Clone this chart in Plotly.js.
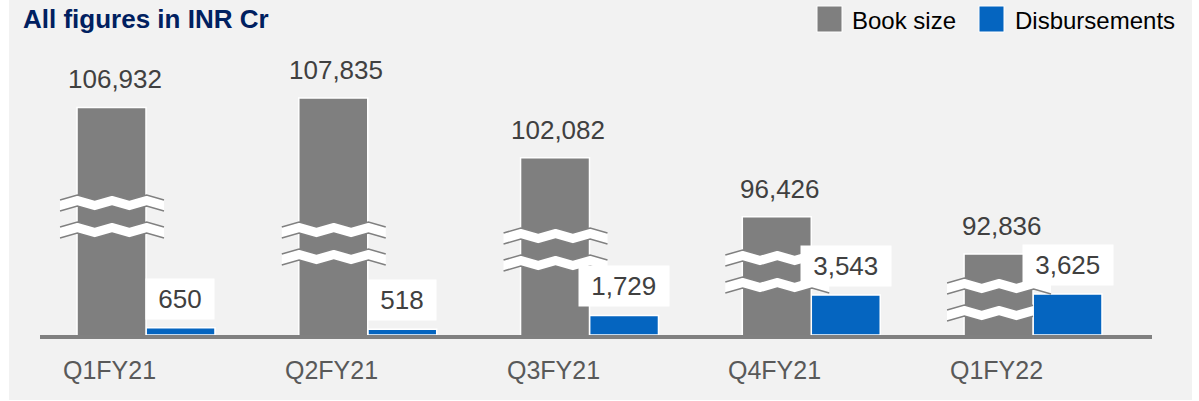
<!DOCTYPE html>
<html><head><meta charset="utf-8">
<script src="https://cdn.plot.ly/plotly-3.0.1.min.js"></script>
<style>html,body{margin:0;padding:0;background:#fff;}#chart{width:1199px;height:401px;}</style>
</head><body><div id="chart"></div>
<script>
// ---------- data ----------
const quarters = ['Q1FY21', 'Q2FY21', 'Q3FY21', 'Q4FY21', 'Q1FY22'];
const bookSize = [106932, 107835, 102082, 96426, 92836];
const disbursements = [650, 518, 1729, 3543, 3625];
const seriesNames = ['Book size', 'Disbursements'];
const chartTitle = 'All figures in INR Cr';

// ---------- style / geometry ----------
const W = 1199, H = 401;
const M = {l: 40, r: 47, t: 60, b: 66};
const PW = W - M.l - M.r, PH = H - M.t - M.b;
const XR = [-0.478, 4.5365];
const BAR_W = 0.311;
const Y1R = [0, 24314];          // disbursements axis
const Y2R = [85048, 111488];     // book size axis (broken axis, not starting at 0)
const GRAY = '#7f7f7f', BLUE = '#0565c0', AXIS = '#808080';
const FONT = '"Liberation Sans", Arial, Helvetica, sans-serif';
const LABEL_C = '#404040', TICK_C = '#595959';
const breakTopPx = [195, 222, 228, 250, 278]; // decorative axis-break marks (px)
const BREAK_GAP = 27, BAND_T = 11, AMP = 5, EXT_L = 17, EXT_R = 18;

const UNIT = PW / (XR[1] - XR[0]);
function xPx(v) { return M.l + (v - XR[0]) * UNIT; }
function yPx(v, r) { return M.t + PH - (v - r[0]) / (r[1] - r[0]) * PH; }
function fx(x) { return (x - M.l) / PW; }
function fy(y) { return (M.t + PH - y) / PH; }
const fmt = v => v.toLocaleString('en-US');

// ---------- traces ----------
const traces = [
  {type: 'bar', name: seriesNames[0], x: quarters, y: bookSize, yaxis: 'y2',
   offset: -BAR_W, width: BAR_W, marker: {color: GRAY, line: {color: '#ffffff', width: 1.5}},
   hoverinfo: 'skip', showlegend: false},
  {type: 'bar', name: seriesNames[1], x: quarters, y: disbursements, yaxis: 'y',
   offset: 0, width: BAR_W, marker: {color: BLUE, line: {color: '#ffffff', width: 1.5}},
   hoverinfo: 'skip', showlegend: false}
];

// ---------- shapes ----------
const shapes = [];
// panel background
shapes.push({type: 'rect', xref: 'paper', yref: 'paper', layer: 'below',
  x0: fx(9), x1: fx(1192), y0: fy(400), y1: fy(0), fillcolor: '#f2f2f2', line: {width: 0}});

// break marks on the gray bars
function bandPath(i, topY) {
  const gl = xPx(i - BAR_W), gr = xPx(i);
  const x0 = gl - EXT_L, x1full = gr + EXT_R;
  const blueTop = yPx(disbursements[i], Y1R);
  const center = topY + AMP / 2 + BAND_T / 2;
  const x1 = center > blueTop ? gr : x1full;
  const step = (x1full - x0) / 6;
  const top = [];
  for (let k = 0; k <= 6; k++) {
    const x = x0 + k * step;
    const y = topY + (k % 2 === 0 ? AMP : 0);
    if (x <= x1 + 0.01) top.push([x, y]);
    else {
      const [px, py] = top[top.length - 1];
      const t = (x1 - px) / (x - px);
      top.push([x1, py + t * (y - py)]);
      break;
    }
  }
  const bot = top.map(([x, y]) => [x, y + BAND_T]);
  const P = ([x, y]) => fx(x).toFixed(5) + ',' + fy(y).toFixed(5);
  const topStr = top.map((p, j) => (j ? 'L' : 'M') + P(p)).join(' ');
  const botStr = bot.map((p, j) => (j ? 'L' : 'M') + P(p)).join(' ');
  const fill = topStr + ' ' + bot.slice().reverse().map(p => 'L' + P(p)).join(' ') + ' Z';
  return {fill, topStr, botStr};
}
quarters.forEach((q, i) => {
  [breakTopPx[i], breakTopPx[i] + BREAK_GAP].forEach(ty => {
    const b = bandPath(i, ty);
    shapes.push({type: 'path', xref: 'paper', yref: 'paper', layer: 'above', path: b.fill,
      fillcolor: '#ffffff', line: {width: 0}});
    shapes.push({type: 'path', xref: 'paper', yref: 'paper', layer: 'above', path: b.topStr,
      fillcolor: 'rgba(0,0,0,0)', line: {color: AXIS, width: 1.5}});
    shapes.push({type: 'path', xref: 'paper', yref: 'paper', layer: 'above', path: b.botStr,
      fillcolor: 'rgba(0,0,0,0)', line: {color: AXIS, width: 1.5}});
  });
});

// legend swatches
const legendPos = [{sx: 817, tx: 850, c: GRAY}, {sx: 979, tx: 1013, c: BLUE}];
legendPos.forEach(p => shapes.push({type: 'rect', xref: 'paper', yref: 'paper', layer: 'above',
  x0: fx(p.sx), x1: fx(p.sx + 25), y0: fy(32), y1: fy(6), fillcolor: p.c, line: {color: '#ffffff', width: 1}}));

// ---------- annotations ----------
const annotations = [];
legendPos.forEach((p, i) => annotations.push({xref: 'paper', yref: 'paper', x: fx(p.tx), y: fy(21),
  xanchor: 'left', yanchor: 'middle', text: seriesNames[i], showarrow: false,
  font: {family: FONT, size: 24, color: '#000000'}}));

quarters.forEach((q, i) => {
  // category label, centred under the book-size bar
  annotations.push({xref: 'x', yref: 'paper', x: q, y: 0, xshift: -36.5, yshift: -19,
    xanchor: 'center', yanchor: 'top', text: q, showarrow: false,
    font: {family: FONT, size: 25, color: TICK_C}});
  annotations.push({xref: 'x', yref: 'y2', x: q, y: bookSize[i], xshift: -BAR_W / 2 * UNIT + 3,
    yshift: 11, xanchor: 'center', yanchor: 'bottom', text: fmt(bookSize[i]), showarrow: false,
    font: {family: FONT, size: 26, color: LABEL_C}});
  annotations.push({xref: 'x', yref: 'y', x: q, y: disbursements[i], xshift: BAR_W / 2 * UNIT,
    yshift: 8, xanchor: 'center', yanchor: 'bottom', text: '\u00a0' + fmt(disbursements[i]) + '\u00a0',
    showarrow: false, bgcolor: '#ffffff', borderpad: 5,
    font: {family: FONT, size: 26, color: LABEL_C}});
});

const layout = {
  width: W, height: H, margin: M,
  paper_bgcolor: '#ffffff', plot_bgcolor: 'rgba(0,0,0,0)',
  barmode: 'overlay', showlegend: false,
  title: {text: '<b>' + chartTitle + '</b>', xref: 'container', yref: 'container',
    x: 23 / W, xanchor: 'left', y: 1 - 19 / H, yanchor: 'middle',
    font: {family: FONT, size: 26, color: '#002060'}},
  xaxis: {type: 'category', range: XR, showline: true, linecolor: AXIS, linewidth: 4,
    ticks: '', showgrid: false, zeroline: false, fixedrange: true, showticklabels: false},
  yaxis: {range: Y1R, visible: false, fixedrange: true},
  yaxis2: {range: Y2R, overlaying: 'y', visible: false, fixedrange: true},
  shapes, annotations
};

Plotly.newPlot('chart', traces, layout, {staticPlot: true, displayModeBar: false});
</script>
</body></html>
